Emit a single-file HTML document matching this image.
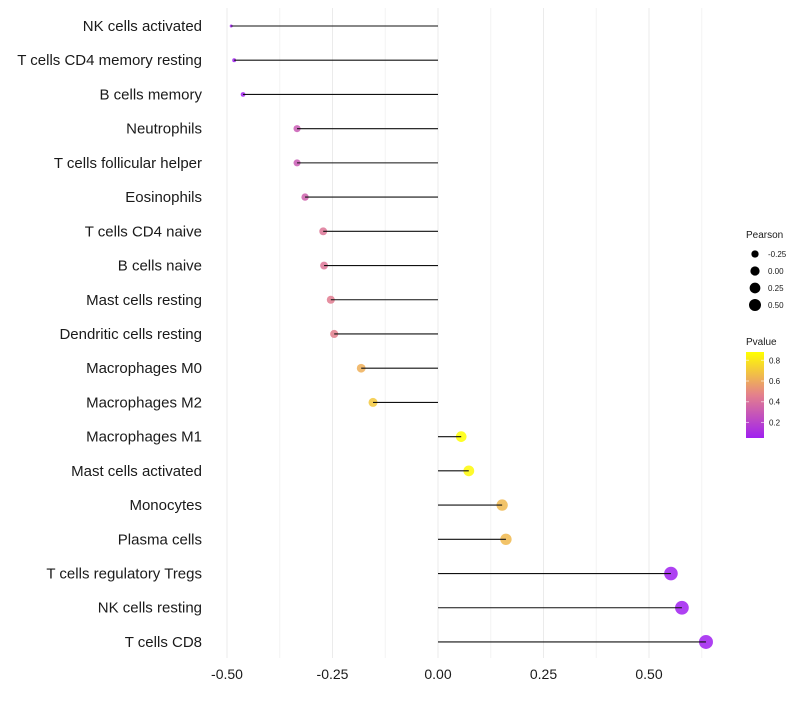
<!DOCTYPE html>
<html><head><meta charset="utf-8"><style>
body{margin:0;background:#fff;}
svg text{font-family:"Liberation Sans",sans-serif;}
</style></head><body>
<svg id="c" width="800" height="700"></svg>
<script>
const categories=["NK cells activated","T cells CD4 memory resting","B cells memory","Neutrophils","T cells follicular helper","Eosinophils","T cells CD4 naive","B cells naive","Mast cells resting","Dendritic cells resting","Macrophages M0","Macrophages M2","Macrophages M1","Mast cells activated","Monocytes","Plasma cells","T cells regulatory  Tregs","NK cells resting","T cells CD8"];
const pearson=[-0.49,-0.483,-0.462,-0.334,-0.334,-0.315,-0.272,-0.27,-0.254,-0.246,-0.182,-0.154,0.055,0.073,0.152,0.161,0.552,0.578,0.635];
const pvalue=[0.03,0.04,0.06,0.3,0.3,0.33,0.42,0.42,0.45,0.46,0.62,0.7,0.88,0.86,0.65,0.65,0.03,0.02,0.01];
const xTicks=[-0.5,-0.25,0,0.25,0.5];
const xTickLabels=["-0.50","-0.25","0.00","0.25","0.50"];
const sizeLegend=[-0.25,0,0.25,0.5];
const sizeLegendLabels=["-0.25","0.00","0.25","0.50"];
const colorTicks=[0.2,0.4,0.6,0.8];

const svg=document.getElementById('c');
const NS='http://www.w3.org/2000/svg';
const x=v=>438+v*422;
const y=i=>26+i*34.22;
const vMin=Math.min(...pearson),vMax=Math.max(...pearson);
const rad=v=>{const t=Math.max(0,(v-vMin)/(vMax-vMin));return 1.5+5.5*Math.sqrt(t);};
const pMin=0.05,pMax=0.88;
function lerp(a,b,t){return a.map((c,i)=>Math.round(c+(b[i]-c)*t));}
function col(p){let t=(p-pMin)/(pMax-pMin);t=Math.max(0,Math.min(1,t));
 const A=[160,32,240],B=[228,128,140],C=[255,255,0];
 const c=t<0.5?lerp(A,B,t/0.5):lerp(B,C,(t-0.5)/0.5);return `rgb(${c})`;}
function el(tag,attrs,parent){const e=document.createElementNS(NS,tag);for(const k in attrs)e.setAttribute(k,attrs[k]);(parent||svg).appendChild(e);return e;}

for(let v=-0.5;v<=0.626;v+=0.125){
 const g=el('line',{x1:x(v),x2:x(v),y1:8,y2:658,stroke:Math.abs((v*4)%1)<1e-6?'#ebebeb':'#f4f4f4','stroke-width':1});
 
 
}
xTicks.forEach((v,i)=>{
 const t=el('text',{x:x(v),y:679,'font-size':14,'text-anchor':'middle',fill:'#1a1a1a'});t.textContent=xTickLabels[i];
 
 
});
categories.forEach((c,i)=>{
 const t=el('text',{x:202,y:y(i)+5,'font-size':15,'text-anchor':'end',fill:'#1a1a1a'});t.textContent=c;
 
 
 const p=el('circle',{cx:x(pearson[i]),cy:y(i),r:rad(pearson[i]),fill:col(pvalue[i]),'fill-opacity':0.85});
 
 
 const l=el('line',{x1:x(0),x2:x(pearson[i]),y1:y(i),y2:y(i),stroke:'#111','stroke-width':1.1});
 
 
});
const st=el('text',{x:746,y:238,'font-size':10,fill:'#1a1a1a'});st.textContent='Pearson';


sizeLegend.forEach((v,i)=>{
 const cy=254+i*17;
 const c=el('circle',{cx:755,cy:cy,r:rad(v)*0.9,fill:'#000'});
 
 
 const t=el('text',{x:768,y:cy+3,'font-size':8,fill:'#1a1a1a'});t.textContent=sizeLegendLabels[i];
 
 
});
const ct=el('text',{x:746,y:345,'font-size':10,fill:'#1a1a1a'});ct.textContent='Pvalue';


const defs=el('defs',{});
const lg=el('linearGradient',{id:'g',x1:0,y1:1,x2:0,y2:0},defs);
[[0,'rgb(160,32,240)'],[0.5,'rgb(228,128,140)'],[1,'rgb(255,255,0)']].forEach(s=>el('stop',{offset:s[0],'stop-color':s[1]},lg));
const cbTop=352,cbBot=438,yc=p=>cbBot-(p-pMin)/(pMax-pMin)*(cbBot-cbTop);
const bar=el('rect',{x:746,y:cbTop,width:18,height:cbBot-cbTop,fill:'url(#g)'});


colorTicks.forEach(p=>{
 el('line',{x1:746,x2:749,y1:yc(p),y2:yc(p),stroke:'#fff','stroke-opacity':0.6});
 el('line',{x1:761,x2:764,y1:yc(p),y2:yc(p),stroke:'#fff','stroke-opacity':0.6});
 const t=el('text',{x:769,y:yc(p)+3,'font-size':8,fill:'#1a1a1a'});t.textContent=p.toFixed(1);
 
 
});
</script>
</body></html>
